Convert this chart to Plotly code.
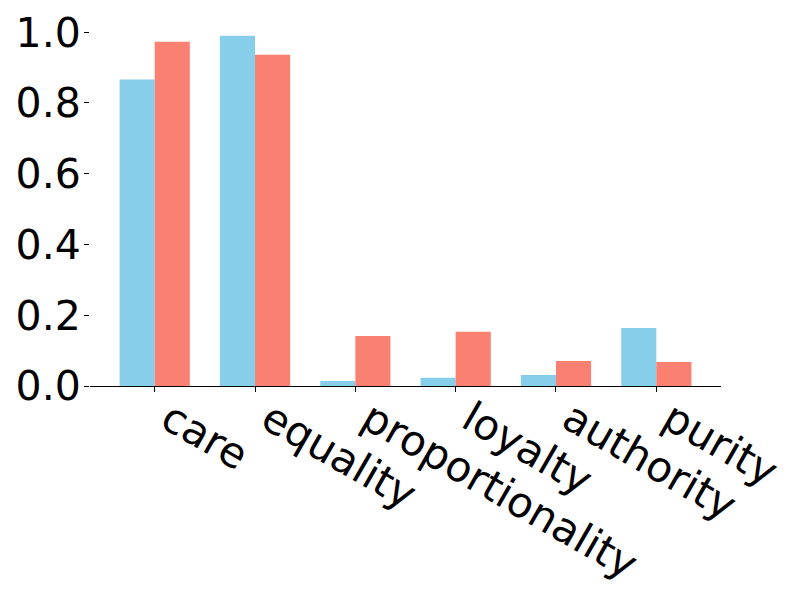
import plotly.graph_objects as go

categories = ["care", "equality", "proportionality", "loyalty", "authority", "purity"]
series_a = [0.866, 0.990, 0.014, 0.023, 0.031, 0.164]
series_b = [0.973, 0.936, 0.141, 0.153, 0.071, 0.068]

fig = go.Figure()
fig.add_trace(go.Bar(x=categories, y=series_a, marker=dict(color="#87CEEB", line=dict(width=0)), showlegend=False))
fig.add_trace(go.Bar(x=categories, y=series_b, marker=dict(color="#FA8072", line=dict(width=0)), showlegend=False))

# page body has an 8px margin, so the figure is 8px smaller and shifted
fig.update_layout(
    width=792, height=592,
    barmode="group", bargap=0.3, bargroupgap=0,
    plot_bgcolor="white", paper_bgcolor="white",
    margin=dict(l=82, r=79, t=10, b=214),
    font=dict(family="DejaVu Sans", size=42, color="black"),
)
fig.update_xaxes(
    range=[-0.645, 5.645], showline=True, linecolor="black", linewidth=1.2,
    ticks="outside", ticklen=5, tickwidth=1.2, tickcolor="black",
    tickangle=30, showgrid=False, tickfont=dict(size=42), automargin=False,
    ticklabelstandoff=-14, ticklabelshift=14, ticklabeloverflow="allow",
)
fig.update_yaxes(
    range=[0, 1.04], showline=False, showgrid=False, zeroline=False,
    ticks="outside", ticklen=5, tickwidth=1.2, tickcolor="black",
    tickvals=[0, 0.2, 0.4, 0.6, 0.8, 1.0], ticktext=["0.0", "0.2", "0.4", "0.6", "0.8", "1.0"],
    tickfont=dict(size=41), automargin=False, ticklabeloverflow="allow",
    ticklabelstandoff=-5,
)
fig.write_html("out.html")
